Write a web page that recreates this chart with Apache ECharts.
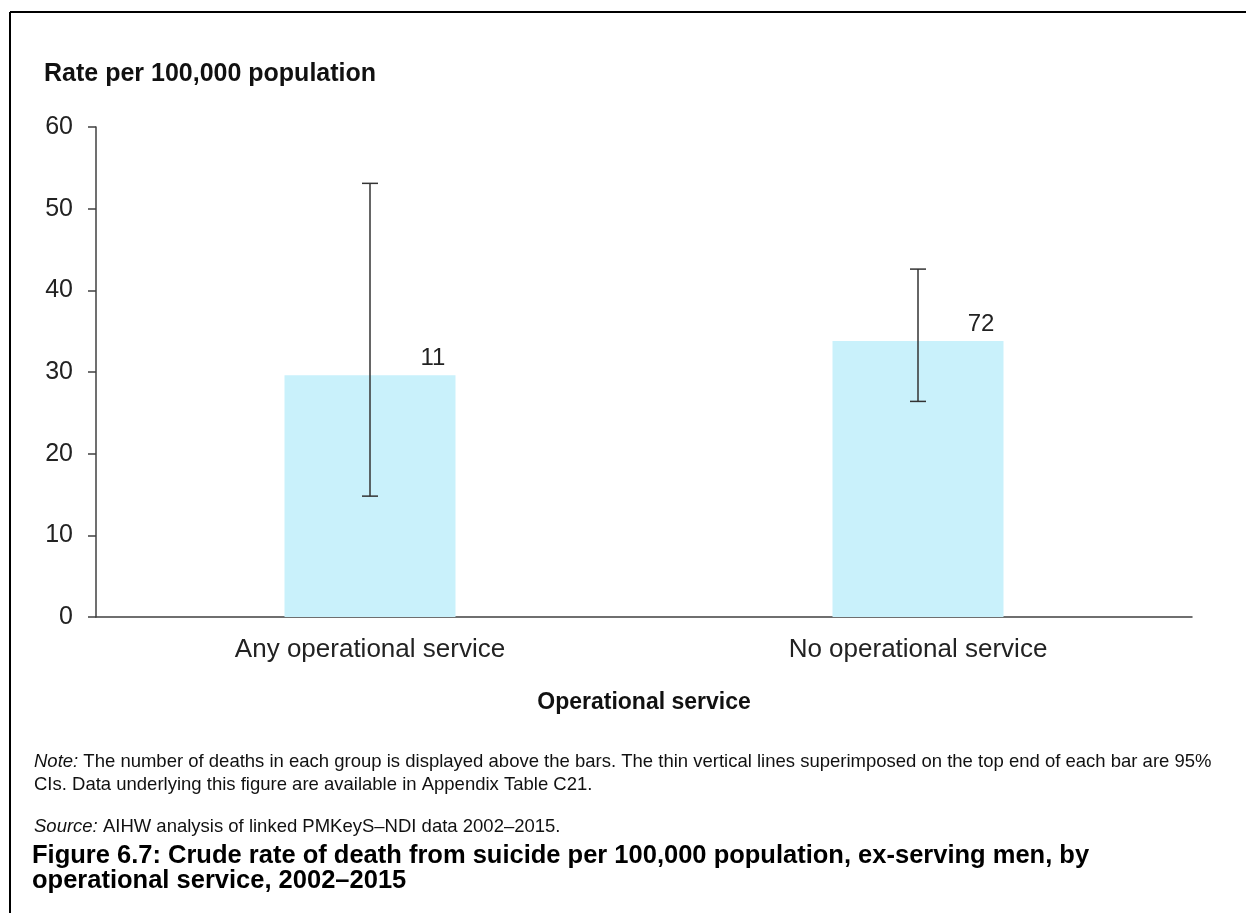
<!DOCTYPE html>
<html><head><meta charset="utf-8">
<script src="https://cdn.jsdelivr.net/npm/echarts@6/dist/echarts.min.js"></script>
<style>html,body{margin:0;padding:0;background:#fff}#c{width:1246px;height:913px}</style>
</head><body><div id="c"></div>
<script>
var categories = ['Any operational service', 'No operational service'];
var rates = [29.6, 33.8];
var ciLow = [14.8, 26.4];
var ciHigh = [53.1, 42.6];
var deaths = ['11', '72'];
var yTicks = [0, 10, 20, 30, 40, 50, 60];

var F = '"Liberation Sans", Arial, sans-serif';
var chart = echarts.init(document.getElementById('c'));
var errData = categories.map(function (c, i) { return [i, ciLow[i], ciHigh[i]]; });

chart.setOption({
  animation: false,
  grid: { left: 96, right: 54, top: 127, bottom: 296 },
  xAxis: {
    type: 'category', data: categories,
    axisLine: { lineStyle: { color: '#404040', width: 1.5 } },
    axisTick: { show: false },
    axisLabel: { color: '#222', fontSize: 26, fontFamily: F, margin: 20 },
    name: 'Operational service', nameLocation: 'middle', nameGap: 74,
    nameTextStyle: { color: '#111', fontSize: 23, fontWeight: 'bold', fontFamily: F }
  },
  yAxis: {
    type: 'value', min: yTicks[0], max: yTicks[yTicks.length - 1], interval: 10,
    axisLine: { show: true, lineStyle: { color: '#404040', width: 1.5 } },
    axisTick: { show: true, length: 8, lineStyle: { color: '#404040', width: 1.5 } },
    splitLine: { show: false },
    axisLabel: { color: '#222', fontSize: 25, fontFamily: F, margin: 23 }
  },
  series: [{
    type: 'bar', data: rates, barWidth: 171,
    itemStyle: { color: '#c9f1fb' },
    label: { show: true, position: 'top', offset: [63, 0], formatter: function (p) { return deaths[p.dataIndex]; },
      color: '#222', fontSize: 24, fontFamily: F }
  }, {
    type: 'custom', data: errData,
    renderItem: function (params, api) {
      var lo = api.coord([api.value(0), api.value(1)]);
      var hi = api.coord([api.value(0), api.value(2)]);
      var w = 8;
      var st = { stroke: '#333', lineWidth: 1.5 };
      return { type: 'group', children: [
        { type: 'line', shape: { x1: hi[0], y1: hi[1], x2: lo[0], y2: lo[1] }, style: st },
        { type: 'line', shape: { x1: hi[0] - w, y1: hi[1], x2: hi[0] + w, y2: hi[1] }, style: st },
        { type: 'line', shape: { x1: lo[0] - w, y1: lo[1], x2: lo[0] + w, y2: lo[1] }, style: st }
      ]};
    },
    z: 5
  }],
  graphic: [
    { type: 'line', shape: { x1: 10, y1: 12, x2: 1246, y2: 12 }, style: { stroke: '#000', lineWidth: 2 } },
    { type: 'line', shape: { x1: 10, y1: 12, x2: 10, y2: 913 }, style: { stroke: '#000', lineWidth: 2 } },
    { type: 'text', left: 44, top: 62, style: { text: 'Rate per 100,000 population', fill: '#111', font: 'bold 25px ' + F } },
    { type: 'text', left: 34, top: 750, style: {
      text: '{i|Note:} The number of deaths in each group is displayed above the bars. The thin vertical lines superimposed on the top end of each bar are 95%\nCIs. Data underlying this figure are available in Appendix Table C21.',
      fill: '#111', font: '18.5px ' + F, lineHeight: 23,
      rich: { i: { fontStyle: 'italic', fontSize: 18.5, fontFamily: F, fill: '#111', lineHeight: 23 } } } },
    { type: 'text', left: 34, top: 815, style: {
      text: '{i|Source:} AIHW analysis of linked PMKeyS\u2013NDI data 2002\u20132015.',
      fill: '#111', font: '18.5px ' + F, lineHeight: 23,
      rich: { i: { fontStyle: 'italic', fontSize: 18.5, fontFamily: F, fill: '#111', lineHeight: 23 } } } },
    { type: 'text', left: 32, top: 843, style: {
      text: 'Figure 6.7: Crude rate of death from suicide per 100,000 population, ex-serving men, by\noperational service, 2002\u20132015',
      fill: '#000', font: 'bold 25.5px ' + F, lineHeight: 25 } }
  ]
});
</script></body></html>
